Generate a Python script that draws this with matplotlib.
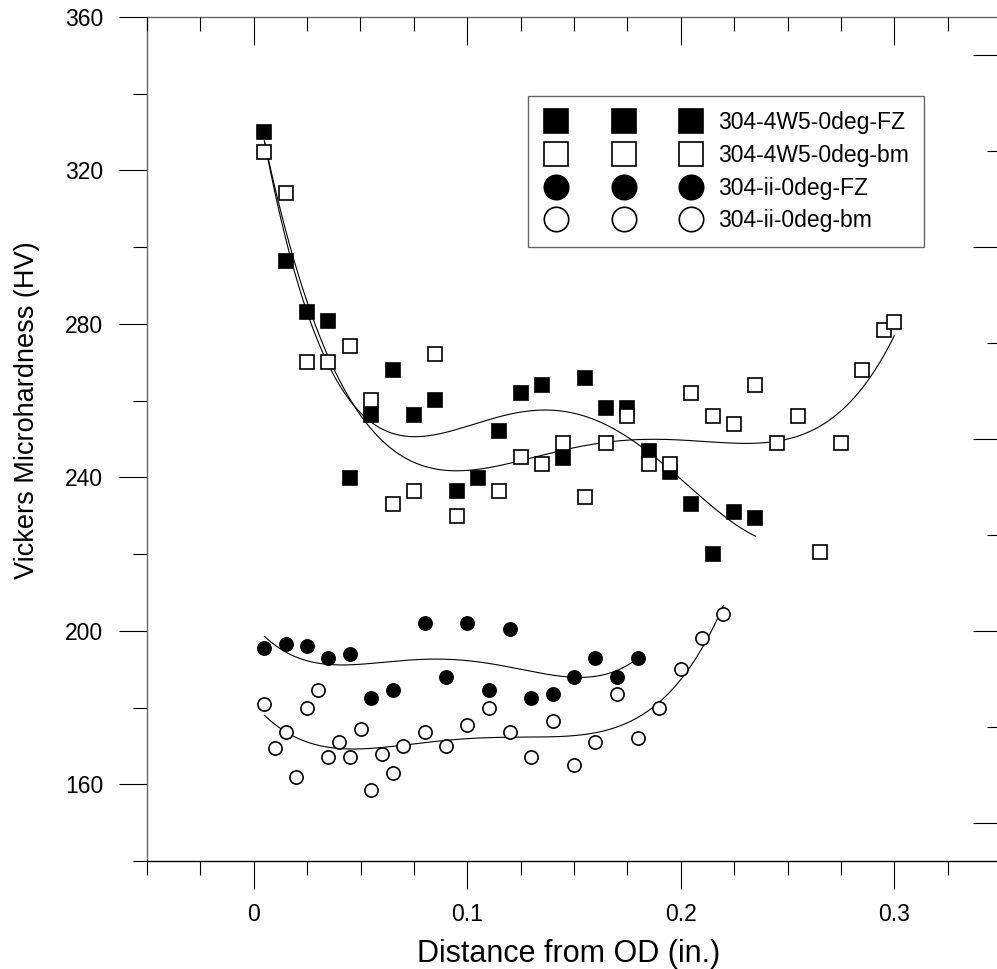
import matplotlib
matplotlib.use('Agg')
import matplotlib.pyplot as plt
from matplotlib.lines import Line2D
from matplotlib.legend_handler import HandlerLine2D
import numpy as np

plt.rcParams['font.family'] = ['Liberation Sans', 'DejaVu Sans']

# 304-4W5-0deg-FZ (filled squares)
fz_4w5_x = [0.005, 0.015, 0.025, 0.035, 0.045, 0.055, 0.065, 0.075, 0.085, 0.095,
            0.105, 0.115, 0.125, 0.135, 0.145, 0.155, 0.165, 0.175, 0.185, 0.195,
            0.205, 0.215, 0.225, 0.235]
fz_4w5_y = [330.1, 296.5, 283.0, 280.8, 239.9, 256.3, 268.0, 256.3, 260.1, 236.5,
            239.9, 252.2, 262.1, 264.1, 245.0, 266.0, 258.0, 258.0, 247.0, 241.5,
            233.0, 220.0, 231.0, 229.5]

# 304-4W5-0deg-bm (open squares)
bm_4w5_x = [0.005, 0.015, 0.025, 0.035, 0.045, 0.055, 0.065, 0.075, 0.085, 0.095,
            0.115, 0.125, 0.135, 0.145, 0.155, 0.165, 0.175, 0.185, 0.195, 0.205,
            0.215, 0.225, 0.235, 0.245, 0.255, 0.265, 0.275, 0.285, 0.295, 0.300]
bm_4w5_y = [324.7, 314.0, 270.0, 270.0, 274.3, 260.2, 233.1, 236.5, 272.1, 229.9,
            236.5, 245.2, 243.5, 249.0, 235.0, 249.0, 256.0, 243.5, 243.5, 262.0,
            256.0, 254.0, 264.0, 249.0, 256.0, 220.5, 249.0, 268.0, 278.5, 280.5]

# 304-ii-0deg-FZ (filled circles)
fz_ii_x = [0.005, 0.015, 0.025, 0.035, 0.045, 0.055, 0.065, 0.08, 0.09, 0.10,
           0.11, 0.12, 0.13, 0.14, 0.15, 0.16, 0.17, 0.18]
fz_ii_y = [195.5, 196.5, 196.0, 193.0, 194.0, 182.5, 184.5, 202.0, 188.0, 202.0,
           184.5, 200.5, 182.5, 183.5, 188.0, 193.0, 188.0, 193.0]

# 304-ii-0deg-bm (open circles)
bm_ii_x = [0.005, 0.01, 0.015, 0.02, 0.025, 0.03, 0.035, 0.04, 0.045, 0.05,
           0.055, 0.06, 0.065, 0.07, 0.08, 0.09, 0.10, 0.11, 0.12, 0.13,
           0.14, 0.15, 0.16, 0.17, 0.18, 0.19, 0.20, 0.21, 0.22]
bm_ii_y = [181.0, 169.5, 173.5, 162.0, 180.0, 184.5, 167.0, 171.0, 167.0, 174.5,
           158.5, 168.0, 163.0, 170.0, 173.5, 170.0, 175.5, 180.0, 173.5, 167.0,
           176.5, 165.0, 171.0, 183.5, 172.0, 180.0, 190.0, 198.0, 204.5]

series = [
    (fz_4w5_x, fz_4w5_y, 's', 'black', '304-4W5-0deg-FZ'),
    (bm_4w5_x, bm_4w5_y, 's', 'white', '304-4W5-0deg-bm'),
    (fz_ii_x, fz_ii_y, 'o', 'black', '304-ii-0deg-FZ'),
    (bm_ii_x, bm_ii_y, 'o', 'white', '304-ii-0deg-bm'),
]

fig = plt.figure(figsize=(9.97, 9.69), dpi=100)
ax = fig.add_axes([147 / 997, 1 - 861 / 969, 854 / 997, 844 / 969])

for xs, ys, mk, fc, lab in series:
    xs = np.array(xs)
    ys = np.array(ys)
    # 4th order regression curve, as in the original
    coef = np.polyfit(xs, ys, 4)
    xx = np.linspace(xs.min(), xs.max(), 300)
    ax.plot(xx, np.polyval(coef, xx), color='black', lw=0.8, zorder=2)
    ax.plot(xs, ys, ls='none', marker=mk, ms=9.5, mfc=fc, mec='black', mew=1.2,
            label=lab, zorder=3)

ax.set_xlim(-0.05, 0.35)
ax.set_ylim(140, 360)

ax.set_xticks([0, 0.1, 0.2, 0.3])
ax.set_xticklabels(['0', '0.1', '0.2', '0.3'])
ax.set_xticks(np.arange(-0.05, 0.351, 0.025), minor=True)
ax.set_yticks(np.arange(160, 361, 40))
ax.set_yticks(np.arange(140, 361, 20), minor=True)

ax.tick_params(which='major', direction='out', length=20, width=0.8, labelsize=16.5,
               top=False, right=False)
ax.tick_params(which='minor', direction='out', length=10, width=0.8, top=False, right=False)
ax.tick_params(axis='x', which='major', pad=10.5)
ax.tick_params(axis='y', which='major', pad=11.5)

for s in ['left', 'top']:
    ax.spines[s].set_color('#666666')
ax.spines['right'].set_visible(False)
for s in ['left', 'top', 'bottom']:
    ax.spines[s].set_linewidth(1.0)

ax.set_xlabel('Distance from OD (in.)', fontsize=22)
ax.set_ylabel('Vickers Microhardness (HV)', fontsize=19.5)
ax.xaxis.set_label_coords(0.494, -0.0924)
ax.yaxis.set_label_coords(-0.125, 0.534)

# top ticks point inward
axt = ax.twiny()
axt.set_xlim(ax.get_xlim())
axt.set_xticks([0, 0.1, 0.2, 0.3])
axt.set_xticks(np.arange(-0.05, 0.351, 0.025), minor=True)
axt.tick_params(which='major', direction='in', length=20, width=0.8, labeltop=False)
axt.tick_params(which='minor', direction='in', length=10, width=0.8)
for s in axt.spines.values():
    s.set_visible(False)

# right axis has its own unlabeled scale
axr = ax.twinx()
axr.set_ylim(-0.396, 8.396)
axr.set_yticks(np.arange(0, 9, 2))
axr.set_yticks(np.arange(1, 9, 2), minor=True)
axr.tick_params(which='major', direction='in', length=20, width=0.8, labelright=False)
axr.tick_params(which='minor', direction='in', length=10, width=0.8)
for s in axr.spines.values():
    s.set_visible(False)

leg = ax.legend(loc='upper left', bbox_to_anchor=(0.4461, 0.9064), borderaxespad=0,
                numpoints=3, markerscale=1.85, fontsize=16.5, handlelength=7.04,
                handletextpad=0.61, borderpad=0.65, labelspacing=0.43,
                fancybox=False, framealpha=1, edgecolor='#666666',
                handler_map={Line2D: HandlerLine2D(marker_pad=0.57)})
leg.get_frame().set_linewidth(1.0)
leg.set_zorder(5)

fig.savefig('out.png', dpi=100)
